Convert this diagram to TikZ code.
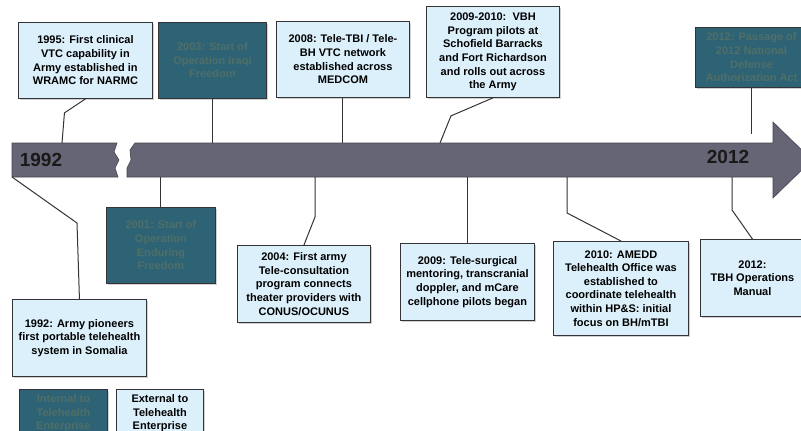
\documentclass[tikz,border=0pt]{standalone}
\usepackage{fontspec}
\setmainfont{Liberation Sans}
\usepackage{tikz}
\usetikzlibrary{arrows.meta,positioning,shadows}
\usepackage{xcolor}
\definecolor{Ink}{HTML}{333338}
\definecolor{Sky}{HTML}{DCF0FB}
\definecolor{Deep}{HTML}{2E6275}
\definecolor{DeepTxt}{HTML}{4F6F68}
\definecolor{BarGray}{HTML}{666575}
\definecolor{BarEdge}{HTML}{45444F}
\tikzset{
  evbox/.style={draw=Ink, line width=0.9pt, align=center, anchor=north west,
    font=\fontsize{11}{13.6}\selectfont\bfseries, inner sep=1pt,
    drop shadow={shadow xshift=1.5pt, shadow yshift=-1.5pt, fill=black!40, opacity=.45},
    fill=#1},
  evbox/.default={Sky},
  opbox/.style={evbox=Deep, text=DeepTxt},
  link/.style={draw=Ink, line width=1pt},
  yearlbl/.style={font=\fontsize{19}{19}\selectfont\bfseries, text=black!90},
}

\begin{document}
\begin{tikzpicture}[x=1pt, y=-1pt]
  \clip (0,0) rectangle (801,431);
  \fill[white] (0,0) rectangle (801,431);

  % timeline bar with break
  \filldraw[fill=BarGray, draw=BarEdge, line width=0.6pt]
    (12,143) -- (117,143) -- (114,152) -- (119,160) -- (115,168) -- (118,177) -- (12,177) -- cycle;
  \filldraw[fill=BarGray, draw=BarEdge, line width=0.6pt]
    (135,143) -- (773,143) -- (773,122) -- (812,160) -- (773,198) -- (773,177)
    -- (127,177) -- (127,168) -- (131,160) -- (130,150) -- cycle;
  \node[yearlbl] (y1992) at (41,160) {1992};
  \node[yearlbl] (y2012) at (728,157) {2012};
  \coordinate (btop) at (0,143);
  \coordinate (bbot) at (0,177);

  % events above the bar
  \node[evbox, minimum width=134, minimum height=76] (e1995) at (18,22)
    {1995: First clinical\\VTC capability in\\Army established in\\WRAMC for NARMC};
  \node[opbox, minimum width=108, minimum height=76] (e2003) at (158,22)
    {2003: Start of\\Operation Iraqi\\Freedom};
  \node[evbox, minimum width=133, minimum height=76] (e2008) at (276,21)
    {2008: Tele-TBI / Tele-\\BH VTC network\\established across\\MEDCOM};
  \node[evbox, minimum width=133, minimum height=91] (e0910) at (426,6)
    {2009-2010:\ \ VBH\\Program pilots at\\Schofield Barracks\\and Fort Richardson\\and rolls out across\\the Army};
  \node[opbox, minimum width=112, minimum height=60] (e2012p) at (695,27)
    {2012: Passage of\\2012 National\\Defense\\Authorization Act};

  % events below the bar
  \node[opbox, minimum width=109, minimum height=76] (e2001) at (106,207)
    {2001: Start of\\Operation\\Enduring\\Freedom};
  \node[evbox, minimum width=134, minimum height=77] (e1992) at (12,299)
    {1992: Army pioneers\\first portable telehealth\\system in Somalia};
  \node[evbox, minimum width=133, minimum height=77] (e2004) at (237,245)
    {2004: First army\\Tele-consultation\\program connects\\theater providers with\\CONUS/OCUNUS};
  \node[evbox, minimum width=134, minimum height=77] (e2009) at (400,243)
    {2009: Tele-surgical\\mentoring, transcranial\\doppler, and mCare\\cellphone pilots began};
  \node[evbox, minimum width=135, minimum height=94] (e2010) at (553,241)
    {2010: AMEDD\\Telehealth Office was\\established to\\coordinate telehealth\\within HP\&S: initial\\focus on BH/mTBI};
  \node[evbox, minimum width=104, minimum height=77] (e2012m) at (700,239)
    {2012:\\TBH Operations\\Manual};

  % legend
  \node[opbox, minimum width=88, minimum height=48] (legint) at (19,389)
    {Internal to\\Telehealth\\Enterprise};
  \node[evbox, minimum width=87, minimum height=48] (legext) at (116,389)
    {External to\\Telehealth\\Enterprise};

  % connectors
  \coordinate (t1995) at (62,143);
  \coordinate (t0910) at (440,143);
  \coordinate (b1992) at (12,177);
  \coordinate (b2004) at (315,177);
  \coordinate (b2010) at (567,177);
  \coordinate (b2012m) at (732,177);
  \draw[link] (e1995.south) -- ++(-21,14) -- (t1995);
  \draw[link] (e2003.south) -- (e2003.south |- btop);
  \draw[link] (e2008.south) -- (e2008.south |- btop);
  \draw[link] (e0910.south) -- ++(-42,18) -- (t0910);
  \draw[link] (e2012p.south) -- ++(0,46);
  \draw[link] (b1992) -- ++(65,46) -- (e1992.north);
  \draw[link] (e2001.north |- bbot) -- (e2001.north);
  \draw[link] (b2004) -- ++(0,40) -- (e2004.north);
  \draw[link] (e2009.north |- bbot) -- (e2009.north);
  \draw[link] (b2010) -- ++(0,36) -- (e2010.north);
  \draw[link] (b2012m) -- ++(0,33) -- (e2012m.north);
\end{tikzpicture}
\end{document}
